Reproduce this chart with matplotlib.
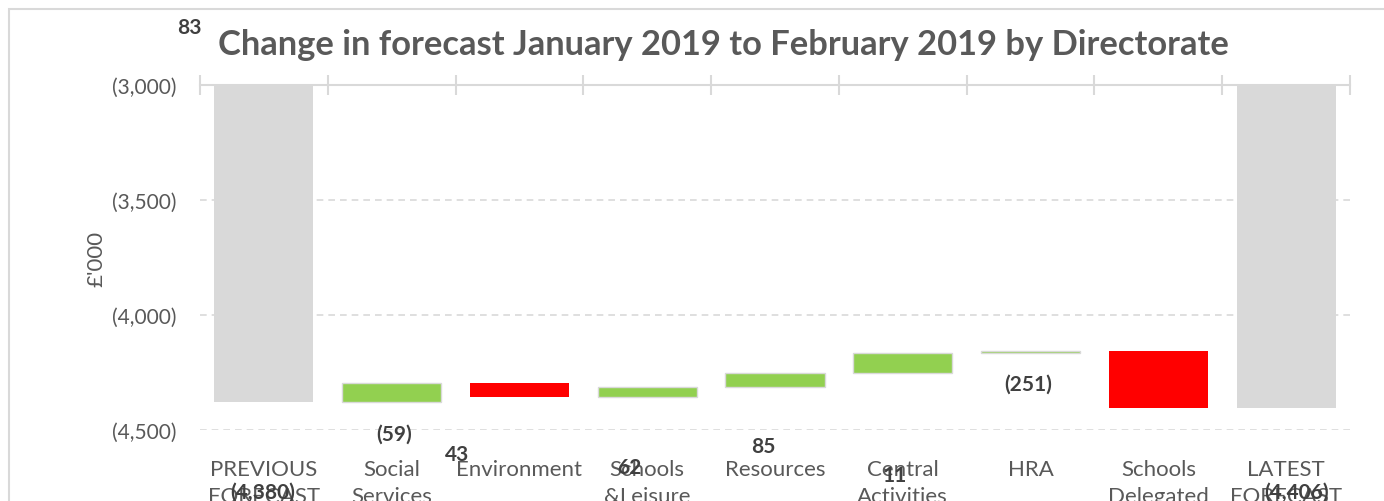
import matplotlib.pyplot as plt
from matplotlib.ticker import FuncFormatter
from matplotlib.patches import Rectangle

plt.rcParams['font.family'] = ['Lato', 'DejaVu Sans']

categories = ['PREVIOUS\nFORECAST', 'Social\nServices', 'Environment', 'Schools\n&Leisure',
              'Resources', 'Central\nActivities', 'HRA', 'Schools\nDelegated', 'LATEST\nFORECAST']
previous = -4380
changes = [83, -59, 43, 62, 85, 11, -251]
latest = previous + sum(changes)   # -4406

# data labels sit in odd places in the original chart (x index, y value)
label_text = ['83', '(59)', '43', '62', '85', '11', '(251)', '(4,380)', '(4,406)']
label_pos = [(-0.58, -2748), (1.02, -4517), (1.51, -4604), (2.86, -4661), (3.91, -4570),
             (4.94, -4696), (5.98, -4300), (-0.01, -4770), (8.08, -4770)]

grey = '#d9d9d9'
txt = '#595959'

fig = plt.figure(figsize=(13.84, 5.02), dpi=100)
fig.patches.append(Rectangle((9/1384, -0.1), 1.2, 1 - 10/502 + 0.1, transform=fig.transFigure,
                             fill=False, edgecolor=grey, linewidth=1.5))
ax = fig.add_axes([200/1384, 1 - 431/502, 1150/1384, 345/502])

w = 0.775
ax.bar(0, previous, width=w, color=grey, zorder=2)
run = previous
for i, c in enumerate(changes):
    if c > 0:
        ax.bar(i + 1, c, bottom=run, width=w, color='#92d050', edgecolor=grey, linewidth=1.0, zorder=2)
    else:
        ax.bar(i + 1, c, bottom=run, width=w, color='#ff0000', zorder=2)
    run += c
ax.bar(len(categories) - 1, latest, width=w, color=grey, zorder=2)

ax.set_xlim(-0.5, len(categories) - 0.5)
ax.set_ylim(-4500, -3000)
ax.set_yticks([-4500, -4000, -3500, -3000])
ax.yaxis.set_major_formatter(FuncFormatter(lambda v, p: '({:,.0f})'.format(abs(v)) if v < 0 else '{:,.0f}'.format(v)))
ax.grid(axis='y', color=grey, linestyle=(0, (4, 3)), linewidth=1.2, zorder=0)
ax.tick_params(axis='y', length=0, pad=17, labelsize=15, labelcolor=txt)

ax.set_xticks(range(len(categories)))
ax.set_xticklabels(categories, linespacing=1.45)
ax.set_xticks([i - 0.5 for i in range(len(categories) + 1)], minor=True)
ax.tick_params(axis='x', which='major', length=0, pad=21, labelsize=16, labelcolor=txt)
ax.tick_params(axis='x', which='minor', top=True, bottom=False, direction='inout', length=14,
               color=grey, width=1.5)

for s in ['left', 'right', 'bottom']:
    ax.spines[s].set_visible(False)
ax.spines['top'].set_color(grey)
ax.spines['top'].set_linewidth(1.5)

ax.set_ylabel("£'000", fontsize=16, color=txt, labelpad=4)

for t, (x, y) in zip(label_text, label_pos):
    ax.text(x, y, t, ha='center', va='center', fontsize=15, fontweight='bold', color='#404040',
            clip_on=False, zorder=5)

fig.text(723/1384, 1 - 45/502, 'Change in forecast January 2019 to February 2019 by Directorate',
         ha='center', va='center', fontsize=24.8, fontweight='bold', color=txt)

fig.savefig('out.png', dpi=100)
